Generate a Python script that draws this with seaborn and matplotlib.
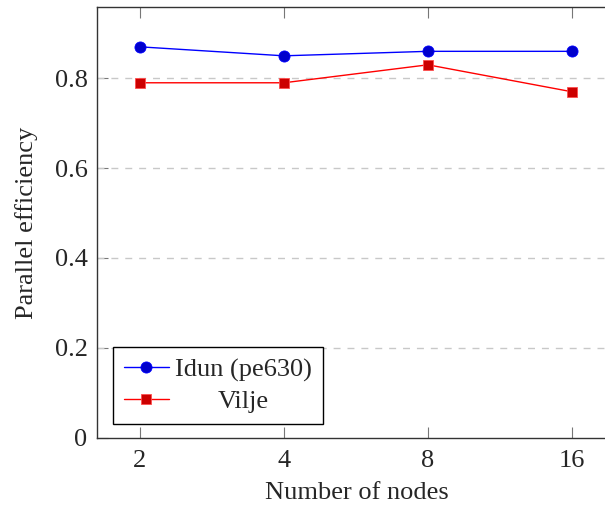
import numpy as np
import pandas as pd
import matplotlib
matplotlib.use("Agg")
import matplotlib.pyplot as plt
import seaborn as sns

nodes = [2, 4, 8, 16]
idun = [0.87, 0.85, 0.86, 0.86]
vilje = [0.79, 0.79, 0.83, 0.77]
series_names = ["Idun (pe630)", "Vilje"]
yticks = [0, 0.2, 0.4, 0.6, 0.8]

FS = 19

sns.set_style("white")
plt.rcParams["font.family"] = ["Liberation Serif", "DejaVu Serif"]
plt.rcParams["font.size"] = FS

df_idun = pd.DataFrame({"nodes": nodes, "eff": idun})
df_vilje = pd.DataFrame({"nodes": nodes, "eff": vilje})

fig = plt.figure(figsize=(6.05, 5.08), dpi=100)
W, H = 605, 508
left_px, top_px, bottom_px = 97.3, 7.3, 437.7
right_px = 97.3 + 3.6 * 144
ax = fig.add_axes([left_px / W, 1 - bottom_px / H, (right_px - left_px) / W, (bottom_px - top_px) / H])

sns.lineplot(data=df_idun, x="nodes", y="eff", ax=ax, color=(0, 0, 1), lw=1.0,
             marker="o", markersize=8, markerfacecolor=(0, 0, 0.8), markeredgecolor=(0, 0, 1),
             markeredgewidth=0.6, label=series_names[0], zorder=3)
sns.lineplot(data=df_vilje, x="nodes", y="eff", ax=ax, color=(1, 0, 0), lw=1.0,
             marker="s", markersize=7.5, markerfacecolor=(0.8, 0, 0), markeredgecolor=(1, 0.3, 0.3),
             markeredgewidth=0.6, label=series_names[1], zorder=3)

ax.set_xscale("log", base=2)
ax.set_xlim(2 * 2 ** -0.296, 16 * 2 ** 0.304)
ax.set_ylim(0, 0.958)
ax.set_xticks(nodes)
ax.set_xticklabels([str(n) for n in nodes])
ax.minorticks_off()
ax.set_yticks(yticks)
ax.set_yticklabels([("0" if v == 0 else f"{v:.1f}") for v in yticks])

for v in yticks[1:]:
    ax.axhline(v, color="#c8c8c8", lw=1.0, ls=(0, (5, 5)), zorder=1)

for s in ax.spines.values():
    s.set_color("#333333")
    s.set_linewidth(1.0)
    s.set_visible(True)

ax.tick_params(axis="both", which="major", direction="in", length=8, width=0.8,
               color="#777777", labelsize=FS, top=True, bottom=True, left=True, right=False)
ax.tick_params(axis="x", pad=9)
ax.tick_params(axis="y", pad=7)
ax.set_xlabel("Number of nodes", fontsize=FS, labelpad=7)
ax.set_ylabel("Parallel efficiency", fontsize=FS, labelpad=12)

leg = ax.legend(loc="lower left", bbox_to_anchor=((112.7 - left_px) / (right_px - left_px), (bottom_px - 424.3) / (bottom_px - top_px)),
                frameon=True, fancybox=False, edgecolor="black", framealpha=1,
                fontsize=FS, handlelength=1.7, borderpad=0.42, labelspacing=0.3,
                handletextpad=0.25, borderaxespad=0)
leg.get_frame().set_linewidth(1.0)

fig.canvas.draw()
texts = leg.get_texts()
r = fig.canvas.get_renderer()
widths = [t.get_window_extent(r).width for t in texts]
wmax = max(widths)
for t, w in zip(texts, widths):
    t.set_position(((wmax - w) / 2, 0))

fig.savefig("out.png", dpi=100)
